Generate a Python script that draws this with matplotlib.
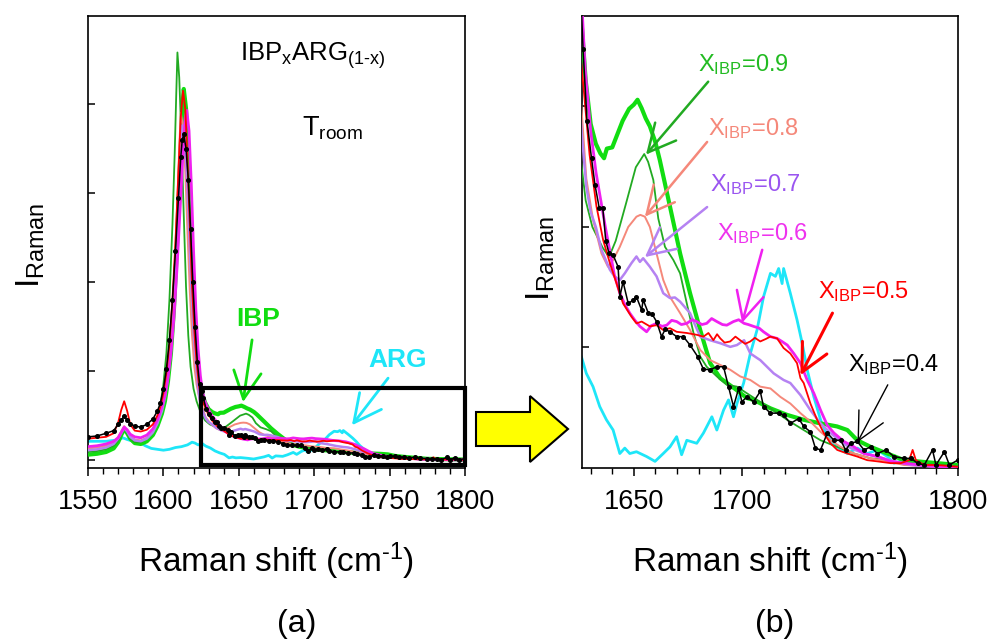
import matplotlib
matplotlib.use("Agg")
import matplotlib.pyplot as plt
from matplotlib.patches import Rectangle, Polygon
from matplotlib.ticker import MultipleLocator

plt.rcParams['font.family'] = ['Liberation Sans', 'DejaVu Sans']
plt.rcParams['mathtext.fontset'] = 'custom'
plt.rcParams['mathtext.rm'] = 'Liberation Sans'
plt.rcParams['mathtext.it'] = 'Liberation Sans:italic'
plt.rcParams['mathtext.bf'] = 'Liberation Sans:bold'

# ---------------- data (Raman shift in cm-1, intensity in arbitrary units) ----------------
# X_IBP = 0.4 (black, dots)
x_04 = [1550, 1556, 1562, 1567, 1570, 1572, 1574, 1576, 1578, 1581, 1585, 1589, 1593, 1596, 1598,
        1600, 1602, 1604, 1606, 1608, 1610, 1611.5, 1612.5, 1613.5, 1615, 1616.5, 1618, 1619.5, 1621,
        1622.5, 1624,
        1625.6, 1626.5, 1628.3, 1630.4, 1632, 1634, 1635.6, 1637, 1638.5, 1640.3, 1642.7, 1643.5, 1645,
        1647.4, 1649.5, 1651.2, 1653.6, 1654.3, 1656.7, 1658.5, 1660.5, 1662.8, 1664.5, 1666.7, 1669.8,
        1672.9, 1676, 1679.5, 1682.2, 1685.3, 1688.4, 1691.5, 1693.8, 1696.1, 1698.5, 1700, 1702.3,
        1705.4, 1708.5, 1710, 1713.2, 1717, 1719.3, 1722.4, 1726.3, 1728.6, 1731.7, 1734, 1736.4, 1739.5,
        1742.6, 1745.7, 1748, 1750.3, 1753.4, 1756.5, 1759.6, 1762.7, 1766.6, 1770.4, 1775, 1778.2,
        1781.3, 1784.4, 1788.2, 1789.8, 1793.7, 1796, 1799.8]
y_04 = [0.26, 0.27, 0.30, 0.33, 0.40, 0.45, 0.49, 0.45, 0.41, 0.38, 0.37, 0.40, 0.46, 0.55, 0.64,
        0.80, 1.02, 1.35, 1.80, 2.35, 2.95, 3.40, 3.60, 3.66, 3.50, 3.15, 2.60, 2.00, 1.50,
        1.10, 0.85,
        0.77, 0.695, 0.576, 0.514, 0.47, 0.431, 0.432, 0.377, 0.356, 0.354, 0.334, 0.284, 0.309,
        0.273, 0.278, 0.284, 0.262, 0.279, 0.257, 0.255, 0.243, 0.218, 0.23, 0.226, 0.218,
        0.218, 0.204, 0.185, 0.164, 0.163, 0.168, 0.168, 0.135, 0.102, 0.132, 0.11, 0.118,
        0.11, 0.127, 0.102, 0.091, 0.091, 0.088, 0.074, 0.082, 0.069, 0.06, 0.033, 0.03, 0.058,
        0.046, 0.046, 0.03, 0.041, 0.044, 0.03, 0.035, 0.024, 0.03, 0.019, 0.016, 0.016,
        0.008, 0.005, 0.03, 0.005, 0.027, 0.005, 0.013]

# X_IBP = 0.5 (red)
x_05 = [1550, 1556, 1562, 1567, 1570, 1572, 1574, 1576, 1578, 1581, 1585, 1589, 1593, 1596, 1598,
        1600, 1602, 1604, 1606, 1608, 1610, 1611.5, 1613, 1614.5, 1616, 1617.5, 1619, 1620.5, 1622, 1623.5,
        1624.9, 1626.5, 1629.5, 1632.7, 1635.8, 1638.9, 1642, 1645, 1648.9, 1651.2, 1653.6, 1657.4,
        1660.5, 1663.6, 1666.7, 1669.8, 1674.5, 1679.1, 1682.2, 1684.5, 1686.8, 1688.5, 1690, 1692,
        1694.6, 1697, 1699.2, 1701.5, 1703.9, 1706, 1708.5, 1711, 1713.2, 1716.3, 1719.3, 1722.4,
        1725.5, 1727.1, 1728.6, 1731.7, 1734.8, 1737.9, 1741, 1744.1, 1748.8, 1753.4, 1758, 1762.7,
        1768.9, 1773.5, 1777.4, 1779, 1780.5, 1784.4, 1790.5, 1800]
y_05 = [0.24, 0.25, 0.26, 0.30, 0.42, 0.56, 0.66, 0.55, 0.40, 0.33, 0.32, 0.34, 0.40, 0.50, 0.60,
        0.75, 0.98, 1.30, 1.80, 2.45, 3.25, 3.85, 4.15, 3.95, 3.35, 2.65, 1.95, 1.45, 1.10, 0.85,
        0.70, 0.64, 0.52, 0.434, 0.378, 0.34, 0.306, 0.273, 0.251, 0.24, 0.243, 0.235,
        0.237, 0.229, 0.232, 0.226, 0.224, 0.221, 0.218, 0.224, 0.212, 0.222, 0.215, 0.208,
        0.21, 0.218, 0.212, 0.206, 0.21, 0.216, 0.21, 0.214, 0.218, 0.215, 0.199, 0.19,
        0.174, 0.149, 0.141, 0.107, 0.08, 0.058, 0.041, 0.03, 0.024, 0.019, 0.013, 0.011,
        0.008, 0.008, 0.013, 0.03, 0.013, 0.005, 0.005, 0.002]

# X_IBP = 0.6 (magenta)
x_06 = [1550, 1556, 1562, 1567, 1570, 1572, 1574, 1576, 1578, 1581, 1585, 1589, 1593, 1596, 1599,
        1601, 1603, 1605, 1607, 1609, 1611, 1613, 1614.5, 1615.5, 1617, 1618.5, 1620, 1621.5, 1623, 1624.5,
        1625.8, 1627.5, 1630, 1632.5, 1634.7, 1636.8, 1638.9, 1641, 1643.5, 1646, 1648.1, 1650.5,
        1652.8, 1655.9, 1658, 1660.5, 1663, 1665.2, 1667.5, 1669.8, 1672, 1674.5, 1677, 1679.1,
        1681.5, 1683.7, 1686, 1688.4, 1691, 1693, 1696.1, 1698.5, 1701, 1703, 1705.4, 1708, 1710,
        1713.2, 1716.3, 1718.5, 1721, 1724, 1727.1, 1730.2, 1733.3, 1736.4, 1739.5, 1742.6, 1747.2,
        1751.9, 1756.5, 1762.7, 1768.9, 1775, 1782.8, 1790.5, 1800]
y_06 = [0.15, 0.16, 0.18, 0.21, 0.25, 0.31, 0.37, 0.34, 0.29, 0.26, 0.25, 0.28, 0.35, 0.45, 0.60,
        0.72, 0.92, 1.20, 1.60, 2.15, 2.80, 3.45, 3.85, 3.93, 3.70, 3.10, 2.35, 1.70, 1.25, 0.95,
        0.78, 0.66, 0.56, 0.49, 0.444, 0.40, 0.36, 0.32, 0.29, 0.27, 0.257, 0.245,
        0.235, 0.226, 0.236, 0.24, 0.235, 0.237, 0.245, 0.243, 0.238, 0.24, 0.246, 0.243,
        0.238, 0.24, 0.248, 0.243, 0.238, 0.237, 0.243, 0.246, 0.24, 0.238, 0.235, 0.232, 0.226,
        0.218, 0.215, 0.21, 0.204, 0.19, 0.174, 0.146, 0.124, 0.096, 0.071, 0.058, 0.044,
        0.035, 0.024, 0.019, 0.011, 0.008, 0.005, 0.002, 0.001]

# X_IBP = 0.7 (lavender)
x_07 = [1550, 1556, 1562, 1567, 1570, 1572, 1574, 1576, 1578, 1581, 1585, 1589, 1593, 1596, 1599,
        1601, 1603, 1605, 1607, 1609, 1611, 1612.5, 1614, 1615.5, 1617, 1618.5, 1620, 1621.5, 1623,
        1624.6, 1626, 1628, 1630, 1632.4, 1635, 1638.9, 1641, 1643.5, 1645.8, 1648.9, 1651.2, 1652.8,
        1654.3, 1657.4, 1660.5, 1663.6, 1666.7, 1669, 1671.4, 1676, 1678, 1680.7, 1683, 1685.3, 1690,
        1694.6, 1697.7, 1701, 1703.9, 1708.5, 1711.6, 1714.7, 1719.3, 1722.4, 1727.1, 1731.7, 1736.4,
        1741, 1745.7, 1750.3, 1756.5, 1762.7, 1770.4, 1778.2, 1790.5, 1800]
y_07 = [0.11, 0.12, 0.14, 0.18, 0.24, 0.30, 0.36, 0.32, 0.26, 0.22, 0.21, 0.24, 0.31, 0.41, 0.55,
        0.70, 0.92, 1.25, 1.75, 2.40, 3.20, 3.76, 3.60, 3.20, 2.60, 1.95, 1.45, 1.10, 0.82,
        0.62, 0.55, 0.467, 0.425, 0.40, 0.362, 0.329, 0.318, 0.312, 0.323, 0.34, 0.351, 0.342,
        0.348, 0.334, 0.318, 0.29, 0.282, 0.283, 0.276, 0.257, 0.24, 0.218, 0.215, 0.212, 0.207,
        0.201, 0.204, 0.212, 0.19, 0.179, 0.168, 0.157, 0.146, 0.141, 0.121, 0.096, 0.074,
        0.058, 0.044, 0.033, 0.024, 0.019, 0.011, 0.005, 0.002, 0.001]

# X_IBP = 0.8 (salmon)
x_08 = [1550, 1556, 1562, 1567, 1570, 1572, 1574, 1576, 1578, 1581, 1585, 1589, 1593, 1596, 1599,
        1601, 1603, 1605, 1607, 1609, 1610.5, 1611.5, 1613, 1614.5, 1616, 1617.5, 1619, 1620.5, 1622, 1624,
        1625.7, 1628, 1631.1, 1635, 1638, 1640.4, 1643.5, 1647.4, 1651.2, 1653, 1655.1, 1657.4, 1660.5,
        1663.6, 1666.7, 1671.4, 1676, 1680.7, 1685.3, 1690, 1694.6, 1699.2, 1703.9, 1708.5, 1713.2,
        1717.8, 1722.4, 1727.1, 1731.7, 1736.4, 1741, 1745.7, 1751.9, 1759.6, 1767.3, 1775, 1790.5, 1800]
y_08 = [0.13, 0.14, 0.16, 0.20, 0.26, 0.32, 0.38, 0.33, 0.27, 0.23, 0.22, 0.25, 0.33, 0.44, 0.60,
        0.76, 1.02, 1.40, 2.00, 2.80, 3.50, 3.90, 3.75, 3.25, 2.55, 1.90, 1.40, 1.05, 0.85, 0.68,
        0.60, 0.48, 0.412, 0.356, 0.334, 0.345, 0.367, 0.40, 0.417, 0.42, 0.417, 0.40, 0.356,
        0.312, 0.284, 0.257, 0.229, 0.196, 0.179, 0.171, 0.163, 0.152, 0.146, 0.135, 0.132,
        0.118, 0.107, 0.091, 0.077, 0.06, 0.046, 0.035, 0.024, 0.016, 0.011, 0.005, 0.002, 0.001]

# X_IBP = 0.9 (green, thin)
x_09 = [1550, 1556, 1562, 1567, 1570, 1572, 1574, 1576, 1578, 1581, 1585, 1589, 1593, 1596, 1598,
        1600, 1602, 1604, 1606, 1607.5, 1608.5, 1609.3, 1610.5, 1612, 1613.5, 1615, 1616.5, 1618, 1620, 1622,
        1624.6, 1627.7, 1630.8, 1635.5, 1638.5, 1641.6, 1646.3, 1650.9, 1654.8, 1656.6, 1659, 1661.3,
        1664.4, 1668.3, 1671.4, 1674.5, 1677.6, 1680.7, 1683.7, 1688.4, 1693, 1697.7, 1702.3, 1707,
        1713.2, 1720.9, 1728.6, 1736.4, 1744.1, 1751.9, 1759.6, 1767.3, 1775, 1790.5, 1800]
y_09 = [0.09, 0.10, 0.12, 0.16, 0.22, 0.29, 0.35, 0.30, 0.24, 0.20, 0.20, 0.24, 0.33, 0.47, 0.62,
        0.85, 1.20, 1.80, 2.65, 3.45, 4.10, 4.58, 4.30, 3.60, 2.75, 1.95, 1.40, 1.05, 0.80, 0.66,
        0.538, 0.444, 0.40, 0.366, 0.35, 0.377, 0.438, 0.499, 0.521, 0.508, 0.478, 0.414,
        0.367, 0.345, 0.323, 0.273, 0.224, 0.185, 0.168, 0.152, 0.138, 0.135, 0.124, 0.113,
        0.099, 0.08, 0.063, 0.046, 0.035, 0.024, 0.016, 0.013, 0.008, 0.005, 0.003]

# pure IBP (lime, thick)
x_ibp = [1550, 1556, 1562, 1567, 1570, 1572, 1574, 1576, 1578, 1581, 1585, 1589, 1593, 1596, 1599,
         1601, 1603, 1605, 1607, 1609, 1611, 1612.5, 1613.5, 1615, 1616.5, 1618, 1619.5, 1621, 1622.5, 1624,
         1625.4, 1627.7, 1630, 1632.4, 1634.5, 1636.2, 1637.5, 1640, 1642.5, 1644.8, 1647.8, 1650,
         1651.7, 1653.6, 1655.5, 1657.4, 1660, 1662, 1664.5, 1666.7, 1671.4, 1676, 1680.7, 1685.3,
         1690, 1697.7, 1702.3, 1705.4, 1713.2, 1721, 1728.6, 1736.4, 1744, 1748.8, 1753.4, 1759.6,
         1767.3, 1775, 1790.5, 1800]
y_ibp = [0.06, 0.07, 0.09, 0.13, 0.20, 0.28, 0.35, 0.30, 0.24, 0.19, 0.18, 0.21, 0.28, 0.38, 0.52,
         0.66, 0.88, 1.20, 1.70, 2.40, 3.30, 3.95, 4.17, 3.95, 3.35, 2.55, 1.85, 1.35, 1.05, 0.85,
         0.76, 0.643, 0.571, 0.538, 0.522, 0.514, 0.53, 0.532, 0.555, 0.576, 0.596, 0.603,
         0.611, 0.597, 0.58, 0.567, 0.54, 0.511, 0.47, 0.434, 0.356, 0.29, 0.229, 0.174,
         0.149, 0.129, 0.116, 0.113, 0.099, 0.088, 0.08, 0.074, 0.069, 0.063, 0.046, 0.035,
         0.024, 0.013, 0.008, 0.005]

# pure ARG (cyan)
x_arg = [1550, 1556, 1562, 1567, 1570, 1573, 1576, 1580, 1584, 1588, 1592, 1596, 1600, 1604, 1608,
         1612, 1616, 1619, 1621, 1623,
         1625.7, 1628, 1631.1, 1634.2, 1637.3, 1640.4, 1643.5, 1645.8, 1648.1, 1651.2, 1655.9, 1659.8,
         1663.6, 1666.7, 1669.8, 1672.1, 1674.5, 1679.1, 1682.2, 1686.1, 1688.4, 1691.5, 1693.8, 1696.1,
         1697.7, 1700.8, 1703.9, 1707, 1710, 1713.2, 1715.5, 1717, 1718.6, 1719.3, 1722.4, 1725.5,
         1727.9, 1730.2, 1733.3, 1736.4, 1739.5, 1744.1, 1748.8, 1753.4, 1758, 1762.7, 1767.3, 1770.4,
         1775, 1782.8, 1790.5, 1800]
y_arg = [0.21, 0.21, 0.21, 0.22, 0.22, 0.25, 0.23, 0.21, 0.20, 0.16, 0.13, 0.12, 0.11, 0.12, 0.14,
         0.15, 0.17, 0.20, 0.19, 0.17,
         0.185, 0.157, 0.135, 0.102, 0.08, 0.063, 0.024, 0.033, 0.024, 0.027, 0.019, 0.011,
         0.024, 0.035, 0.052, 0.022, 0.046, 0.041, 0.058, 0.085, 0.063, 0.096, 0.113, 0.085,
         0.107, 0.141, 0.19, 0.229, 0.284, 0.323, 0.318, 0.331, 0.306, 0.331, 0.29, 0.246,
         0.207, 0.163, 0.118, 0.08, 0.052, 0.035, 0.024, 0.033, 0.024, 0.03, 0.019, 0.008,
         0.013, 0.008, 0.005, 0.002]

series = [
    # x, y, color, linewidth, zorder
    (x_arg, y_arg, '#1ee6f8', 2.0, 2),
    (x_ibp, y_ibp, '#11dd11', 3.0, 3),
    (x_09, y_09, '#22aa22', 1.3, 4),
    (x_08, y_08, '#f5887a', 1.4, 4),
    (x_07, y_07, '#b582f2', 1.8, 5),
    (x_06, y_06, '#f020f0', 2.0, 5),
    (x_05, y_05, '#ff0000', 1.3, 6),
]

labels_b = ['0.9', '0.8', '0.7', '0.6', '0.5', '0.4']

# ---------------- figure ----------------
W, H = 989, 640
fig = plt.figure(figsize=(W / 100, H / 100), dpi=100)

def fx(px):
    return px / W

def fy(py):
    return 1 - py / H

axA = fig.add_axes([fx(88), fy(468), fx(465) - fx(88), fy(16) - fy(468)])
axB = fig.add_axes([fx(582), fy(468), fx(958) - fx(582), fy(16) - fy(468)])

for ax in (axA, axB):
    for x, y, c, lw, z in series:
        ax.plot(x, y, color=c, lw=lw, zorder=z)
    ax.plot(x_04, y_04, color='black', lw=1.1, marker='o', ms=2.6, zorder=7)
    for s in ax.spines.values():
        s.set_linewidth(1.2)
    ax.tick_params(axis='y', direction='in', length=5, width=1.1, labelleft=False)
    ax.tick_params(axis='x', which='major', direction='out', length=6, width=1.1,
                   labelsize=19.5, pad=9)
    ax.tick_params(axis='x', which='minor', direction='out', length=4, width=1.0)
    ax.xaxis.set_minor_locator(MultipleLocator(10))

axA.set_xlim(1550, 1800)
axA.set_ylim(-0.09, 4.99)
axA.xaxis.set_major_locator(MultipleLocator(50))
axA.set_yticks([0, 1, 2, 3, 4])

axB.set_xlim(1626, 1800)
axB.set_ylim(0, 0.75)
axB.set_xticks([1650, 1700, 1750, 1800])
axB.set_yticks([0.2, 0.4, 0.6])

# zoom box in panel (a)
axA.add_patch(Rectangle((1624.7, -0.056), 1800 - 1624.7, 0.862, fill=False,
                        edgecolor='black', lw=3, zorder=10, clip_on=False))

# texts panel (a)
axA.text(1699, 4.49, r'$\mathrm{IBP_xARG_{\text{(1-x)}}}$', ha='center', va='baseline', fontsize=18.5)
axA.text(1711.8, 3.65, r'$\mathrm{T_{room}}$', ha='center', va='baseline', fontsize=19.5)
axA.text(1662.7, 1.505, 'IBP', color='#11dd11', fontsize=19, fontweight='bold',
         ha='center', va='baseline')
axA.text(1755.6, 1.045, 'ARG', color='#1ee6f8', fontsize=19, fontweight='bold',
         ha='center', va='baseline')
arrow_kw = dict(shrinkA=0, shrinkB=0, mutation_scale=18)
axA.annotate('', xy=(1652.8, 0.65), xytext=(1658.8, 1.35),
             arrowprops=dict(arrowstyle='->,head_length=1.1,head_width=0.55', color='#11dd11', lw=2, **arrow_kw))
axA.annotate('', xy=(1725, 0.39), xytext=(1749, 0.92),
             arrowprops=dict(arrowstyle='->,head_length=1.1,head_width=0.55', color='#1ee6f8', lw=2, **arrow_kw))

# texts panel (b)
lab_pos = [(1679.7, 0.658), (1684.4, 0.553), (1685.3, 0.459), (1688.5, 0.378), (1735.4, 0.282), (1748.9, 0.160)]
lab_col = ['#22bb22', '#f5887a', '#9a55f0', '#ee33ee', '#ff0000', 'black']
arr_col = ['#22aa22', '#f5887a', '#b582f2', '#f020f0', '#ff0000', 'black']
arr_lw = [1.8, 1.8, 1.8, 1.8, 2.2, 1.0]
arr_tail = [(1684.4, 0.641), (1683.9, 0.541), (1683.9, 0.433), (1709.4, 0.362), (1741.9, 0.257), (1767.5, 0.138)]
arr_head = [(1655.6, 0.520), (1655.1, 0.417), (1655.1, 0.350), (1700.1, 0.241), (1727.1, 0.154), (1753.5, 0.043)]
for lab, (tx, ty), c, ac, lw, t, h in zip(labels_b, lab_pos, lab_col, arr_col, arr_lw, arr_tail, arr_head):
    axB.text(tx, ty, r'$\mathrm{X_{IBP}}$=' + lab, color=c, fontsize=17, ha='left', va='baseline', zorder=12)
    axB.annotate('', xy=h, xytext=t,
                 arrowprops=dict(arrowstyle='->,head_length=1.1,head_width=0.55', color=ac, lw=lw, **arrow_kw),
                 zorder=12)

# axis labels
for cx in (276, 770):
    fig.text(fx(cx), fy(572), r'Raman shift (cm$^{\text{-1}}$)', ha='center', va='baseline', fontsize=24)
fig.text(fx(297), fy(632), '(a)', ha='center', va='baseline', fontsize=23)
fig.text(fx(775), fy(632), '(b)', ha='center', va='baseline', fontsize=23)
fig.text(fx(31), fy(245), r'$\mathrm{I_{Raman}}$', rotation=90, ha='center', va='center', fontsize=24)
fig.text(fx(541), fy(258), r'$\mathrm{I_{Raman}}$', rotation=90, ha='center', va='center', fontsize=24)

# yellow block arrow between panels
verts = [(476, 412), (530, 412), (530, 396), (568, 429), (530, 462), (530, 446), (476, 446)]
fig.patches.append(Polygon([(fx(a), fy(b)) for a, b in verts], closed=True, facecolor='#ffff00',
                           edgecolor='black', lw=1.5, transform=fig.transFigure, figure=fig))

fig.savefig('out.png', dpi=100)
